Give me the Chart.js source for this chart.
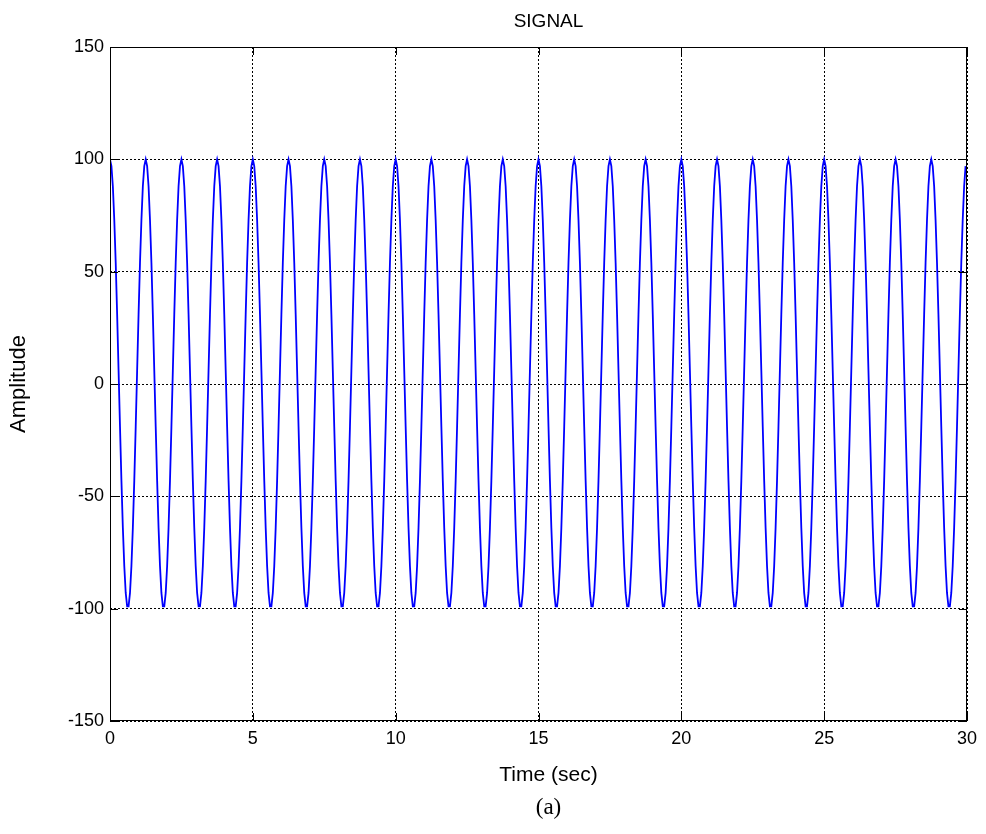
<!DOCTYPE html>
<html>
<head>
<meta charset="utf-8">
<script src="https://cdn.jsdelivr.net/npm/chart.js@4.4.0/dist/chart.umd.min.js"></script>
<style>
html, body { margin: 0; padding: 0; background: #fff; }
#wrap { width: 986px; height: 834px; }
</style>
</head>
<body>
<div id="wrap"><canvas id="signalChart" width="986" height="834"></canvas></div>
<script>
const sampleStep = 0.05;
const amplitude = [
    100, 97, 88, 73, 54, 31, 6, -19, -43, -64, -81, -93, -99, -99, -93, -81, -64, -43, -19, 6, 31, 54, 73, 88, 97,
    100, 97, 88, 73, 54, 31, 6, -19, -43, -64, -81, -93, -99, -99, -93, -81, -64, -43, -19, 6, 31, 54, 73, 88, 97,
    100, 97, 88, 73, 54, 31, 6, -19, -43, -64, -81, -93, -99, -99, -93, -81, -64, -43, -19, 6, 31, 54, 73, 88, 97,
    100, 97, 88, 73, 54, 31, 6, -19, -43, -64, -81, -93, -99, -99, -93, -81, -64, -43, -19, 6, 31, 54, 73, 88, 97,
    100, 97, 88, 73, 54, 31, 6, -19, -43, -64, -81, -93, -99, -99, -93, -81, -64, -43, -19, 6, 31, 54, 73, 88, 97,
    100, 97, 88, 73, 54, 31, 6, -19, -43, -64, -81, -93, -99, -99, -93, -81, -64, -43, -19, 6, 31, 54, 73, 88, 97,
    100, 97, 88, 73, 54, 31, 6, -19, -43, -64, -81, -93, -99, -99, -93, -81, -64, -43, -19, 6, 31, 54, 73, 88, 97,
    100, 97, 88, 73, 54, 31, 6, -19, -43, -64, -81, -93, -99, -99, -93, -81, -64, -43, -19, 6, 31, 54, 73, 88, 97,
    100, 97, 88, 73, 54, 31, 6, -19, -43, -64, -81, -93, -99, -99, -93, -81, -64, -43, -19, 6, 31, 54, 73, 88, 97,
    100, 97, 88, 73, 54, 31, 6, -19, -43, -64, -81, -93, -99, -99, -93, -81, -64, -43, -19, 6, 31, 54, 73, 88, 97,
    100, 97, 88, 73, 54, 31, 6, -19, -43, -64, -81, -93, -99, -99, -93, -81, -64, -43, -19, 6, 31, 54, 73, 88, 97,
    100, 97, 88, 73, 54, 31, 6, -19, -43, -64, -81, -93, -99, -99, -93, -81, -64, -43, -19, 6, 31, 54, 73, 88, 97,
    100, 97, 88, 73, 54, 31, 6, -19, -43, -64, -81, -93, -99, -99, -93, -81, -64, -43, -19, 6, 31, 54, 73, 88, 97,
    100, 97, 88, 73, 54, 31, 6, -19, -43, -64, -81, -93, -99, -99, -93, -81, -64, -43, -19, 6, 31, 54, 73, 88, 97,
    100, 97, 88, 73, 54, 31, 6, -19, -43, -64, -81, -93, -99, -99, -93, -81, -64, -43, -19, 6, 31, 54, 73, 88, 97,
    100, 97, 88, 73, 54, 31, 6, -19, -43, -64, -81, -93, -99, -99, -93, -81, -64, -43, -19, 6, 31, 54, 73, 88, 97,
    100, 97, 88, 73, 54, 31, 6, -19, -43, -64, -81, -93, -99, -99, -93, -81, -64, -43, -19, 6, 31, 54, 73, 88, 97,
    100, 97, 88, 73, 54, 31, 6, -19, -43, -64, -81, -93, -99, -99, -93, -81, -64, -43, -19, 6, 31, 54, 73, 88, 97,
    100, 97, 88, 73, 54, 31, 6, -19, -43, -64, -81, -93, -99, -99, -93, -81, -64, -43, -19, 6, 31, 54, 73, 88, 97,
    100, 97, 88, 73, 54, 31, 6, -19, -43, -64, -81, -93, -99, -99, -93, -81, -64, -43, -19, 6, 31, 54, 73, 88, 97,
    100, 97, 88, 73, 54, 31, 6, -19, -43, -64, -81, -93, -99, -99, -93, -81, -64, -43, -19, 6, 31, 54, 73, 88, 97,
    100, 97, 88, 73, 54, 31, 6, -19, -43, -64, -81, -93, -99, -99, -93, -81, -64, -43, -19, 6, 31, 54, 73, 88, 97,
    100, 97, 88, 73, 54, 31, 6, -19, -43, -64, -81, -93, -99, -99, -93, -81, -64, -43, -19, 6, 31, 54, 73, 88, 97,
    100, 97, 88, 73, 54, 31, 6, -19, -43, -64, -81, -93, -99, -99, -93, -81, -64, -43, -19, 6, 31, 54, 73, 88, 97
];
const xTicks = [0, 5, 10, 15, 20, 25, 30];
const yTicks = [-150, -100, -50, 0, 50, 100, 150];

const titleText = 'SIGNAL';
const xLabel = 'Time (sec)';
const yLabel = 'Amplitude';
const caption = '(a)';

const sansFont = "'Liberation Sans', Arial, sans-serif";
const serifFont = "'Liberation Serif', 'Times New Roman', serif";

const points = amplitude.map((v, i) => ({ x: +(i * sampleStep).toFixed(2), y: v }));

// solid box round the axes plus small inward tick marks, like matlab
const axesFrame = {
    id: 'axesFrame',
    afterDraw(chart) {
        const { ctx, chartArea: a, scales } = chart;
        const tl = 8;
        ctx.save();
        ctx.strokeStyle = '#000';
        ctx.lineWidth = 1;
        ctx.setLineDash([]);
        ctx.beginPath();
        xTicks.forEach(v => {
            const px = Math.round(scales.x.getPixelForValue(v)) + 0.5;
            ctx.moveTo(px, a.bottom);
            ctx.lineTo(px, a.bottom - tl);
            ctx.moveTo(px, a.top);
            ctx.lineTo(px, a.top + tl);
        });
        yTicks.forEach(v => {
            const py = Math.round(scales.y.getPixelForValue(v)) + 0.5;
            ctx.moveTo(a.left, py);
            ctx.lineTo(a.left + tl, py);
            ctx.moveTo(a.right, py);
            ctx.lineTo(a.right - tl, py);
        });
        ctx.stroke();
        ctx.strokeRect(Math.round(a.left) + 0.5, Math.round(a.top) + 0.5,
            Math.round(a.right - a.left) - 1, Math.round(a.bottom - a.top) - 1);

        // title, x label and caption sit a little right of the axes centre
        const cx = (a.left + a.right) / 2 + 10;
        ctx.fillStyle = '#000';
        ctx.textAlign = 'center';
        ctx.textBaseline = 'middle';
        ctx.font = '19px ' + sansFont;
        ctx.fillText(titleText, cx, a.top - 25);
        ctx.font = '21px ' + sansFont;
        ctx.fillText(xLabel, cx, a.bottom + 54);
        ctx.font = '23px ' + serifFont;
        ctx.fillText(caption, cx, a.bottom + 87);
        ctx.restore();
    }
};

new Chart(document.getElementById('signalChart'), {
    type: 'line',
    data: {
        datasets: [{
            label: 'signal',
            data: points,
            borderColor: '#0000ff',
            borderWidth: 1.8,
            pointRadius: 0,
            tension: 0,
            fill: false
        }]
    },
    options: {
        responsive: false,
        animation: false,
        devicePixelRatio: 1,
        layout: {
            padding: { left: 0, right: 19, top: 47, bottom: 83 }
        },
        plugins: {
            legend: { display: false },
            tooltip: { enabled: false },
            title: { display: false }
        },
        scales: {
            x: {
                type: 'linear',
                min: 0,
                max: 30,
                afterBuildTicks: s => { s.ticks = xTicks.map(v => ({ value: v })); },
                afterFit: s => { s.height = 30; },
                ticks: {
                    color: '#000',
                    padding: 7,
                    maxRotation: 0,
                    font: { family: sansFont, size: 18 }
                },
                grid: { color: '#000', lineWidth: 1, drawTicks: false },
                border: { display: false, dash: [2, 2] }
            },
            y: {
                type: 'linear',
                min: -150,
                max: 150,
                afterBuildTicks: s => { s.ticks = yTicks.map(v => ({ value: v })); },
                afterFit: s => { s.width = 110; },
                ticks: {
                    color: '#000',
                    padding: 6,
                    font: { family: sansFont, size: 18 }
                },
                grid: { color: '#000', lineWidth: 1, drawTicks: false },
                border: { display: false, dash: [2, 2] },
                title: {
                    display: true,
                    text: yLabel,
                    color: '#000',
                    font: { family: sansFont, size: 22 },
                    padding: { top: 6, bottom: 0 }
                }
            }
        }
    },
    plugins: [axesFrame]
});
</script>
</body>
</html>
